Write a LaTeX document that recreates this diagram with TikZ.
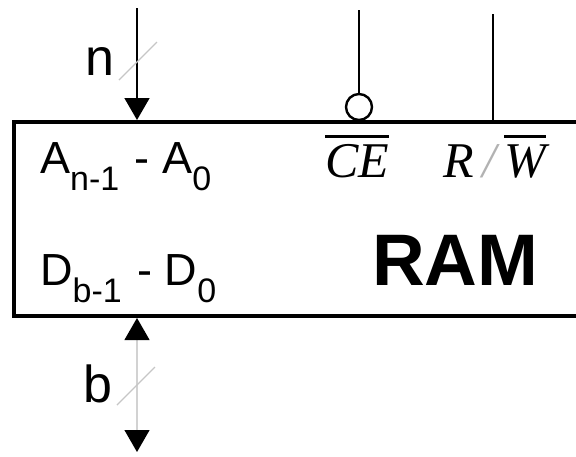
\documentclass[tikz,border=0pt]{standalone}
\usepackage{fontspec}
\setmainfont{Liberation Sans}
\newfontfamily\timesfont{Liberation Serif}
\usetikzlibrary{arrows.meta,positioning}
\newcommand{\olin}[1]{\vbox{\hrule height 3pt\kern 6pt\hbox{#1}}}
\newcommand{\subs}[1]{\raisebox{-17pt}{\fontsize{34}{34}\selectfont #1}}
\begin{document}
\begin{tikzpicture}[x=1pt, y=-1pt, every node/.style={inner sep=0pt},
lbl/.style={font=\fontsize{45}{50}\selectfont, anchor=base west},
buslbl/.style={font=\fontsize{52}{60}\selectfont, anchor=base east},
pin/.style={font=\fontsize{50}{60}\selectfont\timesfont\itshape, anchor=base west},
wire/.style={line width=1.6pt},
bus/.style={line width=1.6pt, -{Triangle[length=22pt, width=25pt]}},
slash/.style={gray!45, line width=1.4pt}]
\useasboundingbox (0,0) rectangle (576,456);
\clip (0,0) rectangle (576,456);
\node (ram) [draw, line width=4pt, minimum width=606pt, minimum height=194pt] at (317,219) {};
\node (addr) [lbl] at (40,173) {A\subs{n-1}\hspace{3pt} - A\subs{0}};
\node (data) [lbl] at (40,285) {D\subs{b-1}\hspace{3pt} - D\subs{0}};
\node (ce) [pin] at (325,177) {\olin{CE}};
\node (rw) [pin] at (443,177) {R\,{\color{gray!60}/}\,\olin{W}};
\node (name) [font=\fontsize{73}{80}\selectfont\bfseries, anchor=base west] at (372,285) {RAM};
\coordinate (nin) at (137,8);
\coordinate (nbus) at (138,61);
\draw [bus] (nin) -- (nin |- ram.north);
\draw [slash] (nbus) ++(-19,19) -- ++(38,-38);
\node (nlab) [buslbl] at (115,75) {n};
\coordinate (cein) at (359,10);
\node (cebub) [draw, circle, line width=2.4pt, minimum size=26pt] at (359,107) {};
\draw [wire] (cein) -- (cebub.north);
\coordinate (rwin) at (493,14);
\draw [wire] (rwin) -- (rwin |- ram.north);
\coordinate (dout) at (137,452);
\coordinate (dbus) at (136,386);
\draw [line width=1.2pt, gray!35, {Triangle[black, length=22pt, width=25pt]}-{Triangle[black, length=22pt, width=25pt]}] (dout |- ram.south) -- (dout);
\draw [slash] (dbus) ++(-19,19) -- ++(38,-38);
\node (blab) [buslbl] at (113,402) {b};
\end{tikzpicture}
\end{document}
